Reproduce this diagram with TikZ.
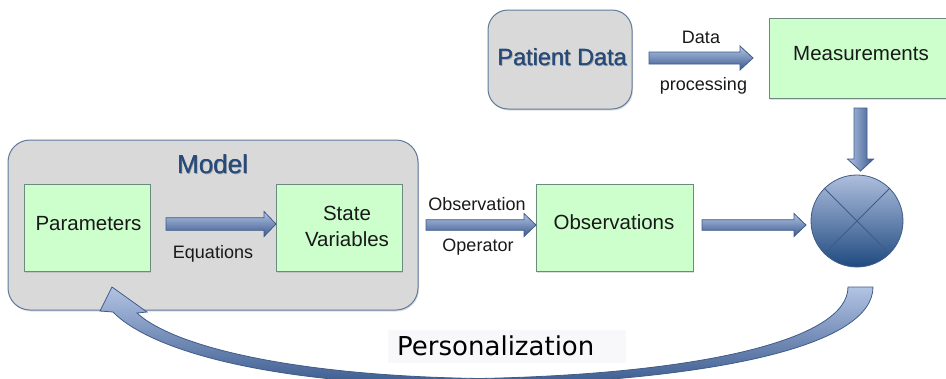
\documentclass[tikz,border=0pt]{standalone}
\usepackage{fontspec}
\setmainfont{Liberation Sans}
\newfontfamily\dejavu{DejaVu Sans}
\usetikzlibrary{shadows}
\definecolor{boxgreen}{HTML}{CCFFCC}
\definecolor{boxedge}{HTML}{6E8A80}
\definecolor{graybg}{HTML}{D9D9D9}
\definecolor{grayedge}{HTML}{5F7A9C}
\definecolor{titleblue}{HTML}{264A7A}
\definecolor{arrlight}{HTML}{B3C4E4}
\definecolor{arrdark}{HTML}{3A5A8E}
\definecolor{arredge}{HTML}{3F5C88}
\definecolor{circtop}{HTML}{AEBEDD}
\definecolor{circbot}{HTML}{1F4A80}
\definecolor{labelbg}{HTML}{F8F8FA}
\newcommand{\fs}[1]{\fontsize{#1}{#1}\selectfont}
\newcommand{\harrow}[6]{%
  \shade[top color=arrlight, bottom color=arrdark, draw=arredge, line width=0.8pt]
  (#1,#3-#4) -- (#2-#6,#3-#4) -- (#2-#6,#3-#5) -- (#2,#3) -- (#2-#6,#3+#5)
  -- (#2-#6,#3+#4) -- (#1,#3+#4) -- cycle;}
\newcommand{\varrow}[6]{%
  \shade[left color=arrlight, right color=arrdark, draw=arredge, line width=0.8pt]
  (#3-#4,#1) -- (#3-#4,#2-#6) -- (#3-#5,#2-#6) -- (#3,#2) -- (#3+#5,#2-#6)
  -- (#3+#4,#2-#6) -- (#3+#4,#1) -- cycle;}
\tikzset{
  greenbox/.style={draw=boxedge, fill=boxgreen, line width=0.8pt, inner sep=0pt,
    drop shadow={shadow xshift=1pt, shadow yshift=-1.5pt, opacity=0.25}},
  graybox/.style={draw=grayedge, fill=graybg, line width=1pt, inner sep=0pt,
    drop shadow={shadow xshift=1pt, shadow yshift=-1.5pt, opacity=0.25}},
  boxtext/.style={anchor=base, inner sep=0pt, font=\fs{20.5}, text=black!90},
  armtext/.style={anchor=base, inner sep=0pt, font=\fs{18}, text=black!90},
  titletext/.style={anchor=base, inner sep=0pt, text=titleblue},
  titleshadow/.style={anchor=base, inner sep=0pt, text=black, opacity=0.3}
}
\begin{document}
\begin{tikzpicture}[x=1pt,y=-1pt]
\useasboundingbox (0,0) rectangle (946,378);
\clip (0,0) rectangle (946,378);

% Model group
\node[graybox, rounded corners=22pt, minimum width=410pt, minimum height=170pt] (model) at (213,225) {};
\node[titleshadow, font=\fs{26}] (modelshadow) at (213.5,174.5) {Model};
\node[titletext, font=\fs{26}] (modeltitle) at (212.5,173) {Model};
\node[titletext, font=\fs{26}] (modeltitleb) at (212.9,173) {Model};
\node[greenbox, minimum width=126pt, minimum height=87pt] (params) at (87,227.5) {};
\node[boxtext] (paramstext) at (88.5,230.5) {Parameters};
\node[greenbox, minimum width=126pt, minimum height=87pt] (state) at (339,227.5) {};
\node[boxtext] (statetext1) at (347,220.5) {State};
\node[boxtext] (statetext2) at (347,246) {Variables};

% Observations
\node[greenbox, minimum width=157pt, minimum height=87pt] (obs) at (614.5,227.5) {};
\node[boxtext] (obstext) at (614,229.5) {Observations};

% Patient data
\node[graybox, rounded corners=20pt, minimum width=144pt, minimum height=99pt] (patient) at (560,59.5) {};
\node[titleshadow, font=\fs{23.5}] (patientshadow) at (563,66.5) {Patient Data};
\node[titletext, font=\fs{23.5}] (patienttext) at (562,65) {Patient Data};
\node[titletext, font=\fs{23.5}] (patienttextb) at (562.4,65) {Patient Data};

% Measurements
\node[greenbox, minimum width=181pt, minimum height=80pt] (meas) at (859.5,58) {};
\node[boxtext] (meastext) at (861,60) {Measurements};

% Comparison circle
\node[circle, minimum size=92pt, inner sep=0pt, top color=circtop, bottom color=circbot,
  draw=arredge, line width=0.8pt] (cmp) at (857,221) {};
\draw[arredge, line width=0.8pt] (cmp.45) -- (cmp.225);
\draw[arredge, line width=0.8pt] (cmp.135) -- (cmp.315);

% Block arrows
\harrow{166}{276}{224}{6.3}{12.5}{12}
\harrow{426}{536}{225}{5.3}{11.5}{12}
\harrow{702}{806}{225}{5.3}{11.5}{12}
\harrow{649}{753}{58}{6}{12}{13}
\varrow{108}{171}{860.5}{6.5}{13}{12}

% Arrow labels
\node[armtext] (eqlabel) at (213,258) {Equations};
\node[armtext] (oblabel1) at (477,210) {Observation};
\node[armtext] (oblabel2) at (478,251) {Operator};
\node[armtext] (dplabel1) at (701,43.5) {Data};
\node[armtext] (dplabel2) at (703.5,90) {processing};

% Personalization curved arrow
\shade[top color=arrlight, bottom color=arrdark, draw=arredge, line width=0.8pt]
  (848,287) -- (873,287)
  .. controls (873,345) and (720,380) .. (480,386)
  .. controls (270,386) and (150,350) .. (113,312)
  -- (100,311) -- (112,287) -- (147,312) -- (137,313)
  .. controls (175,348) and (300,376) .. (480,378.5)
  .. controls (700,374) and (848,340) .. (848,287) -- cycle;
\fill[labelbg] (388,330) rectangle (626,363);
\node[anchor=base west, inner sep=0pt, font=\dejavu\fs{26}] (perslabel) at (397,355.5) {Personalization};
\end{tikzpicture}
\end{document}
